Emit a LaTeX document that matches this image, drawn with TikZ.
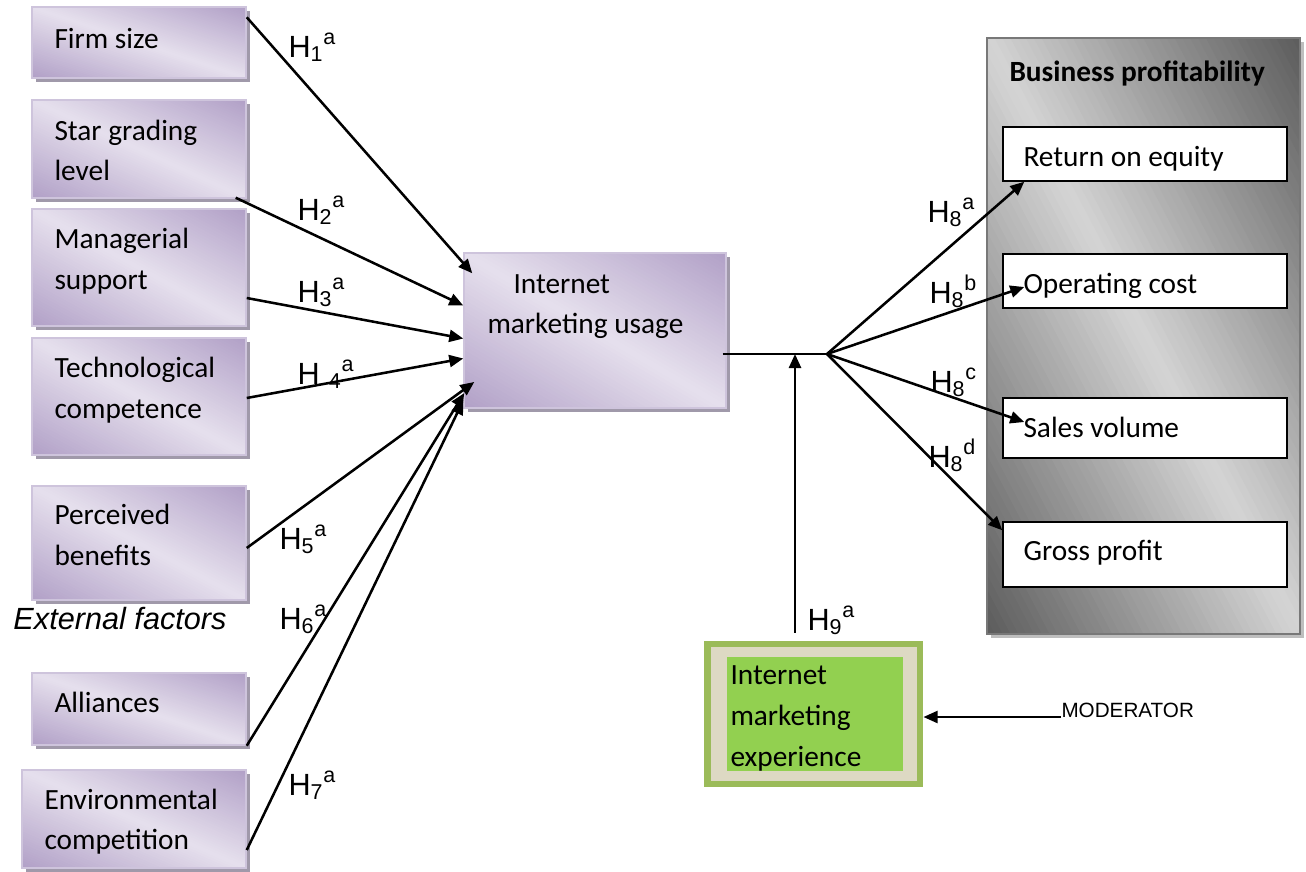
\documentclass[tikz,border=0pt]{standalone}
\usepackage{fontspec}
\setmainfont{Carlito}
\newfontfamily\arialfont{Liberation Sans}
\usetikzlibrary{arrows.meta,calc}

\definecolor{lavdark}{RGB}{177,160,199}
\definecolor{lavlight}{RGB}{230,224,237}
\definecolor{lavline}{RGB}{206,196,220}
\definecolor{lavshadow}{RGB}{160,153,170}
\definecolor{greydark}{RGB}{92,92,92}
\definecolor{greylight}{RGB}{212,212,212}
\definecolor{greyshadow}{RGB}{190,190,190}
\definecolor{modgreen}{RGB}{155,187,89}
\definecolor{modbeige}{RGB}{221,217,195}
\definecolor{modlime}{RGB}{146,208,80}

% diagonal dark-light-dark fill of a box: x1,y1,x2,y2,dark,light
\newcommand{\diaggrad}[6]{%
  \begin{scope}
    \clip (#1,#2) rectangle (#3,#4);
    \foreach \s in {0,0.025,...,1.975}{
      \pgfmathsetmacro{\mix}{100*abs(\s+0.0125-1)}
      \fill[#5!\mix!#6] ({#1+\s*(#3-#1)},#4) -- ({#1+(\s+0.05)*(#3-#1)},#4) -- ({#1+(\s+0.05-1)*(#3-#1)},#2) -- ({#1+(\s-1)*(#3-#1)},#2) -- cycle;
    }
  \end{scope}}

\tikzset{every picture/.style={line width=0.75pt}}
\tikzset{
  lavbox/.style={draw=lavline, line width=1.1pt, inner sep=0pt},
  lavshade/.style={fill=lavshadow, inner sep=0pt},
  whitebox/.style={draw=black, line width=1.1pt, fill=white, inner sep=0pt, minimum width=213pt},
  ftext/.style={anchor=base west, inner sep=0pt, font=\fontsize{22}{26}\selectfont},
  htext/.style={anchor=base west, inner sep=0pt, font=\arialfont\fontsize{23}{26}\selectfont},
  link/.style={line width=1.9pt, -{Triangle[length=10.5pt,width=9pt]}}
}

\begin{document}
\begin{tikzpicture}[x=0.75pt,y=0.75pt,yscale=-1,xscale=1]
\path[use as bounding box, fill=white] (0,0) rectangle (1306,871);

%Shadows of the factor boxes
\node[lavshade, minimum width=160.5pt, minimum height=53.25pt] (firmS) at (143,46.5) {};
\node[lavshade, minimum width=160.5pt, minimum height=73.5pt] (starS) at (143,153) {};
\node[lavshade, minimum width=160.5pt, minimum height=87.75pt] (managS) at (143,271.5) {};
\node[lavshade, minimum width=160.5pt, minimum height=87.75pt] (technS) at (143,400.5) {};
\node[lavshade, minimum width=160.5pt, minimum height=85.5pt] (percS) at (143,547) {};
\node[lavshade, minimum width=160.5pt, minimum height=54pt] (alliS) at (143,713) {};
\node[lavshade, minimum width=168pt, minimum height=73.5pt] (envS) at (138,823) {};
\node[lavshade, minimum width=196.5pt, minimum height=116.25pt] (usageS) at (599,334.5) {};

%Gradient fills
\diaggrad{32}{7}{246}{78}{lavdark}{lavlight}
\diaggrad{32}{100}{246}{198}{lavdark}{lavlight}
\diaggrad{32}{209}{246}{326}{lavdark}{lavlight}
\diaggrad{32}{338}{246}{455}{lavdark}{lavlight}
\diaggrad{32}{486}{246}{600}{lavdark}{lavlight}
\diaggrad{32}{673}{246}{745}{lavdark}{lavlight}
\diaggrad{22}{770}{246}{868}{lavdark}{lavlight}
\diaggrad{464}{253}{726}{408}{lavdark}{lavlight}

%Factor boxes
\node[lavbox, minimum width=160.5pt, minimum height=53.25pt] (firm) at (139,42.5) {};
\node[lavbox, minimum width=160.5pt, minimum height=73.5pt] (star) at (139,149) {};
\node[lavbox, minimum width=160.5pt, minimum height=87.75pt] (manag) at (139,267.5) {};
\node[lavbox, minimum width=160.5pt, minimum height=87.75pt] (techn) at (139,396.5) {};
\node[lavbox, minimum width=160.5pt, minimum height=85.5pt] (perc) at (139,543) {};
\node[lavbox, minimum width=160.5pt, minimum height=54pt] (alli) at (139,709) {};
\node[lavbox, minimum width=168pt, minimum height=73.5pt] (env) at (134,819) {};
%Internet marketing usage
\node[lavbox, minimum width=196.5pt, minimum height=116.25pt] (usage) at (595,330.5) {};

%Business profitability panel
\node[fill=greyshadow, inner sep=0pt, minimum width=234.75pt, minimum height=447pt] (panelS) at (1147.5,340) {};
\diaggrad{987}{38}{1300}{634}{greydark}{greylight}
\node[draw={rgb, 255:red, 120; green, 120; blue, 120 }, line width=0.9pt, inner sep=0pt, minimum width=234.75pt, minimum height=447pt] (panel) at (1143.5,336) {};
\node[whitebox, minimum height=40.5pt] (roe) at (1145,154) {};
\node[whitebox, minimum height=40.5pt] (opc) at (1145,281) {};
\node[whitebox, minimum height=45pt] (sales) at (1145,428) {};
\node[whitebox, minimum height=48.75pt] (gross) at (1145,554.5) {};

%Moderator box
\node[fill=modgreen, inner sep=0pt, minimum width=164.25pt, minimum height=109.5pt] (modout) at (813.5,714) {};
\node[fill=modbeige, inner sep=0pt, minimum width=154.5pt, minimum height=100.5pt] (modmid) at (814,714) {};
\node[fill=modlime, inner sep=0pt, minimum width=132pt, minimum height=85.5pt] (modin) at (815,714) {};

% Text Nodes
\node[ftext] (firmT) at (54,48) {Firm size};
\node[ftext] (starT) at (54,140) {Star grading};
\node[ftext] (starT2) at (54,180) {level};
\node[ftext] (managT) at (54,248) {Managerial};
\node[ftext] (managT2) at (54,289) {support};
\node[ftext] (technT) at (54,377) {Technological};
\node[ftext] (technT2) at (54,418) {competence};
\node[ftext] (percT) at (54,524) {Perceived};
\node[ftext] (percT2) at (54,565) {benefits};
\node[ftext] (alliT) at (54,712) {Alliances};
\node[ftext] (envT) at (44,809) {Environmental};
\node[ftext] (envT2) at (44,849) {competition};
\node[htext, font=\arialfont\itshape\fontsize{23}{26}\selectfont] (ext) at (13,629) {External factors};
\node[ftext] (usageT) at (513,293) {Internet};
\node[ftext] (usageT2) at (487,333) {marketing usage};
\node[ftext, font=\bfseries\fontsize{22}{26}\selectfont] (title) at (1009,81) {Business profitability};
\node[ftext] (roeT) at (1023,166) {Return on equity};
\node[ftext] (opcT) at (1023,293) {Operating cost};
\node[ftext] (salesT) at (1023,437) {Sales volume};
\node[ftext] (grossT) at (1023,560) {Gross profit};
\node[ftext] (modT) at (730,684) {Internet};
\node[ftext] (modT2) at (730,725) {marketing};
\node[ftext] (modT3) at (730,766) {experience};
\node[htext, font=\arialfont\fontsize{15.5}{18}\selectfont] (moder) at (1061,717) {MODERATOR};

% Hypothesis labels
\node[htext] (h1) at (288,57) {H\textsubscript{1}\textsuperscript{a}};
\node[htext] (h2) at (297,220) {H\textsubscript{2}\textsuperscript{a}};
\node[htext] (h3) at (297,302) {H\textsubscript{3}\textsuperscript{a}};
\node[htext] (h4) at (297,384) {H\hspace{7pt}\textsubscript{4}\textsuperscript{a}};
\node[htext] (h5) at (279,549) {H\textsubscript{5}\textsuperscript{a}};
\node[htext] (h6) at (279,629) {H\textsubscript{6}\textsuperscript{a}};
\node[htext] (h7) at (288,795) {H\textsubscript{7}\textsuperscript{a}};
\node[htext] (h8a) at (927,222) {H\textsubscript{8}\textsuperscript{a}};
\node[htext] (h8b) at (929,303) {H\textsubscript{8}\textsuperscript{b}};
\node[htext] (h8c) at (930,392) {H\textsubscript{8}\textsuperscript{c}};
\node[htext] (h8d) at (928,467) {H\textsubscript{8}\textsuperscript{d}};
\node[htext] (h9) at (807,630) {H\textsubscript{9}\textsuperscript{a}};

% Factors to usage
\draw[link] ($(firm.north east)+(0,11)$) -- ($(usage.north west)+(9,21)$);
\draw[link] ($(star.south east)+(-11,-1)$) -- ($(usage.west)+(0,-25)$);
\draw[link] ($(manag.east)+(0,30.5)$) -- ($(usage.west)+(0,8)$);
\draw[link] ($(techn.east)+(0,1.5)$) -- ($(usage.west)+(0,28)$);
\draw[link] ($(perc.east)+(0,5)$) -- ($(usage.west)+(11,51.5)$);
\draw[link] (alli.south east) -- ($(usage.west)+(1,62.5)$);
\draw[link] ($(env.east)+(0,31)$) -- ($(usage.west)+(0,70)$);

% Usage to profitability
\coordinate (jct) at (827,354);
\coordinate (tap) at (795,354);
\draw[line width=1.2pt] ($(usage.east)+(-4,23.5)$) -- (jct);
\draw[link] (jct) -- ($(roe.south west)+(22,0)$);
\draw[link] (jct) -- ($(opc.west)+(22,6)$);
\draw[link] (jct) -- ($(sales.west)+(22,-6)$);
\draw[link] (jct) -- ($(gross.north west)+(0,9)$);

% Moderator
\draw[link] ($(tap |- modout.north)+(0,-8)$) -- (tap);
\draw[link, line width=1.6pt] (moder.base west) -- (moder.base west -| modout.east);

\end{tikzpicture}
\end{document}
